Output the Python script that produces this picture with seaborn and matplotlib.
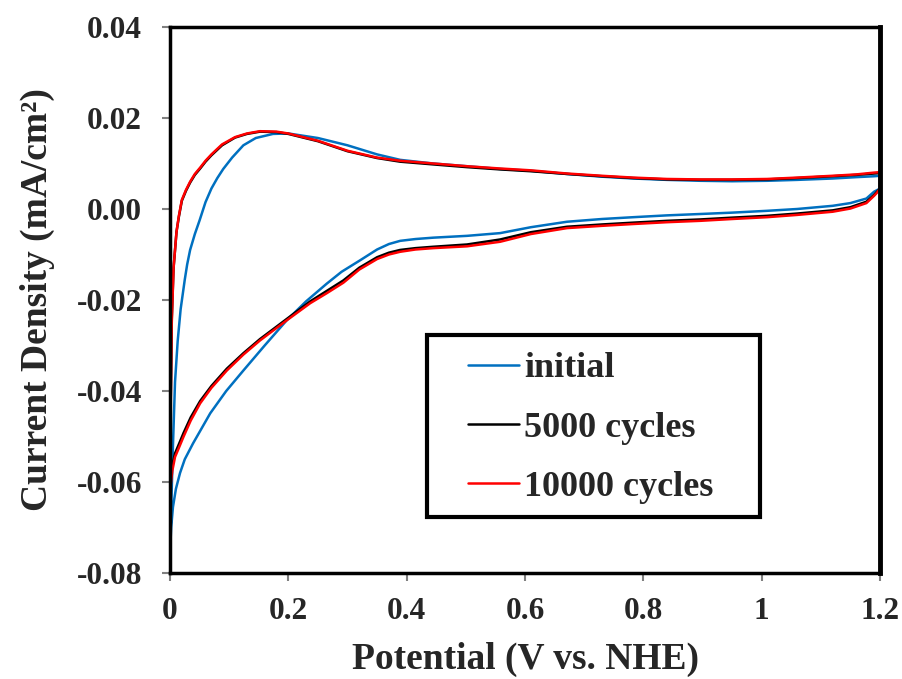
import pandas as pd
import matplotlib
matplotlib.use("Agg")
import matplotlib.pyplot as plt
from matplotlib.patches import Rectangle
import seaborn as sns

# ---- data (anodic sweep, then cathodic sweep) ----
initial_up_x = [0.000, 0.002, 0.005, 0.0085, 0.013, 0.018, 0.025, 0.029, 0.034, 0.042, 0.050,
                0.060, 0.070, 0.080, 0.090, 0.105, 0.124, 0.145, 0.174, 0.200, 0.250,
                0.300, 0.350, 0.389, 0.445, 0.502, 0.558, 0.610, 0.671, 0.730, 0.783,
                0.840, 0.896, 0.950, 1.009, 1.060, 1.120, 1.160, 1.190, 1.200]
initial_up_y = [-0.0756, -0.066, -0.052, -0.038, -0.029, -0.022, -0.0155, -0.0122, -0.0090, -0.0055, -0.0025,
                0.0015, 0.0045, 0.0068, 0.0088, 0.0113, 0.0140, 0.0156, 0.0165, 0.0166, 0.0156,
                0.0140, 0.0120, 0.0108, 0.0100, 0.0094, 0.0088, 0.0084, 0.0077, 0.0071, 0.0067,
                0.0064, 0.0062, 0.0061, 0.0062, 0.0064, 0.0067, 0.0070, 0.0072, 0.0073]
initial_dn_x = [1.200, 1.190, 1.177, 1.150, 1.120, 1.060, 1.009, 0.950, 0.896, 0.840,
                0.783, 0.730, 0.671, 0.610, 0.558, 0.502, 0.445, 0.415, 0.389, 0.370,
                0.350, 0.321, 0.290, 0.265, 0.230, 0.197, 0.160, 0.124, 0.095, 0.068,
                0.050, 0.039, 0.025, 0.017, 0.010, 0.005, 0.002, 0.000]
initial_dn_y = [0.0045, 0.0038, 0.0023, 0.0013, 0.0007, 0.0000, -0.0004, -0.0008, -0.0011, -0.0014,
                -0.0018, -0.0022, -0.0028, -0.0040, -0.0053, -0.0059, -0.0063, -0.0066, -0.0070, -0.0077,
                -0.0089, -0.0113, -0.0138, -0.0164, -0.0203, -0.0245, -0.0300, -0.0355, -0.0400, -0.0449,
                -0.0490, -0.0515, -0.0550, -0.0580, -0.0615, -0.0655, -0.0700, -0.0756]

cyc_up_x = [0.000, 0.001, 0.003, 0.006, 0.011, 0.015, 0.020, 0.027, 0.034, 0.042,
            0.051, 0.060, 0.070, 0.088, 0.110, 0.130, 0.152, 0.180, 0.200, 0.250,
            0.300, 0.350, 0.389, 0.445, 0.502, 0.558, 0.610, 0.671, 0.730, 0.783,
            0.840, 0.896, 0.950, 1.009, 1.060, 1.120, 1.160, 1.190, 1.200]
cyc_dn_x = [1.200, 1.195, 1.190, 1.177, 1.150, 1.120, 1.060, 1.009, 0.950, 0.896,
            0.840, 0.783, 0.730, 0.671, 0.610, 0.558, 0.502, 0.445, 0.415, 0.389,
            0.370, 0.350, 0.320, 0.293, 0.265, 0.237, 0.197, 0.152, 0.124, 0.096,
            0.070, 0.051, 0.035, 0.023, 0.015, 0.0085, 0.004, 0.000]

c5000_up_y = [-0.0590, -0.044, -0.024, -0.013, -0.005, -0.0017, 0.0018, 0.0040, 0.0058, 0.0075,
              0.0089, 0.0104, 0.0118, 0.0140, 0.0157, 0.0165, 0.0170, 0.0169, 0.0165, 0.0149,
              0.0127, 0.0112, 0.0104, 0.0098, 0.0092, 0.0087, 0.0083, 0.0077, 0.0072, 0.0068,
              0.0065, 0.0064, 0.0064, 0.0065, 0.0068, 0.0072, 0.0075, 0.0078, 0.0079]
c5000_dn_y = [0.0045, 0.0038, 0.0031, 0.0016, 0.0004, -0.0003, -0.0010, -0.0015, -0.0019, -0.0023,
              -0.0026, -0.0030, -0.0034, -0.0039, -0.0051, -0.0067, -0.0078, -0.0083, -0.0086, -0.0090,
              -0.0096, -0.0106, -0.0129, -0.0157, -0.0180, -0.0203, -0.0242, -0.0286, -0.0317, -0.0351,
              -0.0389, -0.0422, -0.0458, -0.0492, -0.0517, -0.0537, -0.0562, -0.0590]

c10000_up_y = [-0.0618, -0.045, -0.025, -0.013, -0.005, -0.0015, 0.0020, 0.0042, 0.0060, 0.0077,
               0.0091, 0.0106, 0.0120, 0.0142, 0.0158, 0.0166, 0.0171, 0.0170, 0.0166, 0.0150,
               0.0128, 0.0113, 0.0106, 0.0100, 0.0094, 0.0089, 0.0085, 0.0078, 0.0073, 0.0069,
               0.0066, 0.0065, 0.0065, 0.0066, 0.0069, 0.0073, 0.0076, 0.0080, 0.0081]
c10000_dn_y = [0.0045, 0.0036, 0.0029, 0.0013, 0.0001, -0.0006, -0.0013, -0.0018, -0.0022, -0.0026,
               -0.0029, -0.0033, -0.0037, -0.0042, -0.0055, -0.0072, -0.0082, -0.0086, -0.0089, -0.0094,
               -0.0100, -0.0110, -0.0133, -0.0162, -0.0185, -0.0207, -0.0245, -0.0289, -0.0320, -0.0355,
               -0.0393, -0.0427, -0.0465, -0.0500, -0.0525, -0.0545, -0.0575, -0.0618]

series_names = ['initial', '5000 cycles', '10000 cycles']
series_colors = ['#0070C0', '#000000', '#FF0000']
x_ticks = [0, 0.2, 0.4, 0.6, 0.8, 1.0, 1.2]
x_tick_labels = ['0', '0.2', '0.4', '0.6', '0.8', '1', '1.2']
y_ticks = [-0.08, -0.06, -0.04, -0.02, 0.00, 0.02, 0.04]
y_tick_labels = ['-0.08', '-0.06', '-0.04', '-0.02', '0.00', '0.02', '0.04']

# build long table, keeping the sweep order
frames = []
for name, xs, ys in [
    (series_names[0], initial_up_x + initial_dn_x, initial_up_y + initial_dn_y),
    (series_names[1], cyc_up_x + cyc_dn_x, c5000_up_y + c5000_dn_y),
    (series_names[2], cyc_up_x + cyc_dn_x, c10000_up_y + c10000_dn_y),
]:
    frames.append(pd.DataFrame({'E': xs, 'j': ys, 'series': name}))
df = pd.concat(frames, ignore_index=True)

sns.set_style('ticks')
plt.rcParams['font.family'] = ['Liberation Serif', 'DejaVu Serif']
plt.rcParams['font.weight'] = 'bold'
plt.rcParams['axes.labelweight'] = 'bold'

W, H = 902, 679
fig = plt.figure(figsize=(W / 100, H / 100), dpi=100)
ax = fig.add_axes([170 / W, 1 - 573 / H, 710 / W, 546 / H])

sns.lineplot(data=df, x='E', y='j', hue='series', hue_order=series_names,
             palette=dict(zip(series_names, series_colors)),
             sort=False, estimator=None, linewidth=1.8, ax=ax)

ax.set_xlim(0, 1.2)
ax.set_ylim(-0.08, 0.04)
ax.set_xticks(x_ticks)
ax.set_xticklabels(x_tick_labels)
ax.set_yticks(y_ticks)
ax.set_yticklabels(y_tick_labels)
ax.tick_params(axis='both', direction='out', length=6, width=1.5, color='#808080',
               labelsize=22.5, top=False, right=False)
ax.tick_params(axis='y', pad=14)
ax.tick_params(axis='x', pad=11)
for lab in ax.get_xticklabels() + ax.get_yticklabels():
    lab.set_fontweight('bold')

for side in ['left', 'bottom', 'top']:
    ax.spines[side].set_color('black')
    ax.spines[side].set_linewidth(2.5)
ax.spines['right'].set_color('black')
ax.spines['right'].set_linewidth(3.5)

ax.set_xlabel('Potential (V vs. NHE)', fontsize=27, fontweight='bold', labelpad=12)
ax.set_ylabel('Current Density (mA/cm²)', fontsize=27, fontweight='bold', labelpad=16)

# legend box drawn as a plain rectangle, entries placed inside it
ax.add_patch(Rectangle(((427 - 170) / 710, (573 - 517) / 546), 333 / 710, 182 / 546,
                       transform=ax.transAxes, fill=True, facecolor='white',
                       edgecolor='black', linewidth=3, zorder=4))
leg = ax.legend(loc='upper left', bbox_to_anchor=((468 - 170) / 710, (573 - 352) / 546),
                fontsize=26, frameon=False, handlelength=1.4, handletextpad=0.15,
                borderpad=0, labelspacing=0.72, borderaxespad=0)
leg.set_zorder(5)
for t in leg.get_texts():
    t.set_fontweight('bold')

fig.savefig('out.png', dpi=100)
